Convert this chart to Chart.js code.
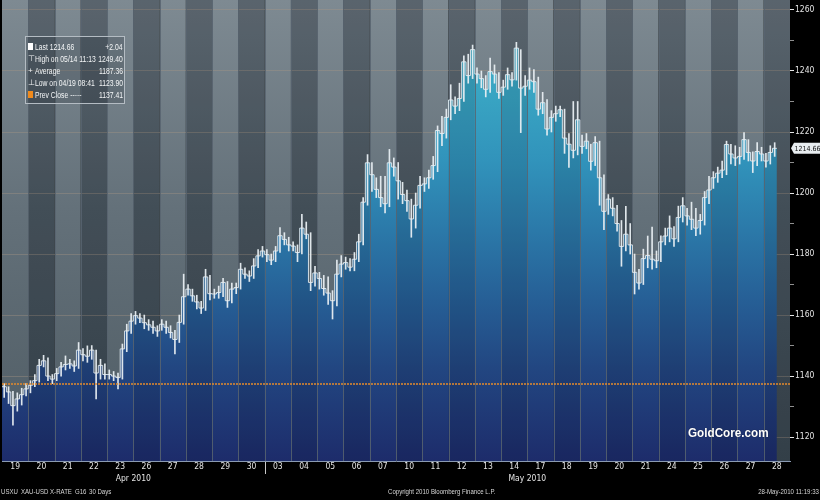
<!DOCTYPE html>
<html>
<head>
<meta charset="utf-8">
<script src="https://cdn.jsdelivr.net/npm/chart.js@4.4.1/dist/chart.umd.min.js"></script>
<style>
html,body{margin:0;padding:0;background:#000;}
#wrap{position:relative;width:820px;height:500px;overflow:hidden;background:#000;}
#c{position:absolute;left:0;top:0;}
#lg{position:absolute;left:25px;top:36px;width:98px;height:66px;border:1px solid #b4bcc3;background:rgba(30,40,50,0.22);}
#lg .r{position:absolute;left:0;width:98px;height:12px;line-height:12px;font-size:8.5px;color:#f4f6f7;font-family:'Liberation Sans',Arial,sans-serif;}
#lg .t{position:absolute;left:9px;top:0;white-space:nowrap;transform:scaleX(0.8);transform-origin:0 50%;}
#lg .v{position:absolute;right:1px;top:0;white-space:nowrap;transform:scaleX(0.8);transform-origin:100% 50%;}
#lg .ic{position:absolute;left:2px;top:0;font-size:8px;}
#lg .sq{position:absolute;left:2px;top:2px;width:5px;height:7px;}
#ft span{position:absolute;top:486px;height:11px;line-height:11px;font-size:8px;color:#d6d6d6;white-space:nowrap;font-family:'Liberation Sans',Arial,sans-serif;transform:scaleX(0.76);transform-origin:0 50%;}
#gc{position:absolute;left:688px;top:425px;font-family:'Liberation Sans',Arial,sans-serif;font-weight:bold;font-size:13px;color:#fff;white-space:nowrap;transform:scaleX(0.9);transform-origin:0 50%;text-shadow:0 0 1px rgba(0,0,0,0.6);}
</style>
</head>
<body>
<div id="wrap">
<canvas id="c" width="820" height="500"></canvas>
<div id="lg">
  <div class="r" style="top:4px"><span class="sq" style="background:#ffffff"></span><span class="t">Last 1214.66</span><span class="v">+2.04</span></div>
  <div class="r" style="top:16px"><span class="ic">⊤</span><span class="t">High on 05/14 11:13</span><span class="v">1249.40</span></div>
  <div class="r" style="top:28px"><span class="ic">+</span><span class="t">Average</span><span class="v">1187.36</span></div>
  <div class="r" style="top:40px"><span class="ic">⊥</span><span class="t">Low on 04/19 08:41</span><span class="v">1123.90</span></div>
  <div class="r" style="top:52px"><span class="sq" style="background:#f08a1c"></span><span class="t">Prev Close -----</span><span class="v">1137.41</span></div>
</div>
<div id="gc">GoldCore.com</div>
<div id="ft">
  <span style="left:1px">USXU</span>
  <span style="left:21px">XAU-USD X-RATE</span>
  <span style="left:75px">G16</span>
  <span style="left:89px">30 Days</span>
  <span style="left:388px">Copyright 2010 Bloomberg Finance L.P.</span>
  <span style="right:1px;transform-origin:100% 50%">28-May-2010 11:19:33</span>
</div>
</div>
<script>
// ---- data ----
const dayLabels = ["19","20","21","22","23","26","27","28","29","30","03","04","05","06","07","10","11","12","13","14","17","18","19","20","21","24","25","26","27","28"];
const monthLabels = ["Apr 2010","May 2010"];
const monthDaySpans = [[0,10],[10,30]];
const yTickValues = [1120,1130,1140,1150,1160,1170,1180,1190,1200,1210,1220,1230,1240,1250,1260];
const prevClose = 1137.41;
const lastValue = 1214.66;
const BARS_PER_DAY = 6;

const closes = [
 1136.5,1134.8,1130.3,1132.5,1133.9,1135.8,
 1137.0,1138.5,1143.5,1145.0,1140.0,1139.0,
 1140.8,1143.0,1143.8,1144.0,1143.3,1148.5,
 1147.0,1146.5,1148.5,1141.0,1143.5,1140.5,
 1140.5,1140.0,1139.5,1148.9,1154.8,1158.0,
 1159.8,1159.0,1157.5,1156.8,1156.0,1154.8,
 1157.0,1156.0,1154.3,1152.0,1157.6,1166.0,
 1168.5,1166.3,1164.3,1162.3,1172.5,1167.0,
 1166.9,1167.4,1170.7,1164.7,1168.5,1169.0,
 1175.0,1173.4,1172.8,1176.1,1179.4,1181.0,
 1179.8,1178.0,1181.0,1186.0,1184.8,1183.0,
 1182.6,1180.5,1188.5,1186.5,1170.7,1173.8,
 1172.0,1168.7,1167.2,1164.7,1173.4,1176.7,
 1177.2,1175.7,1178.3,1184.0,1197.0,1209.9,
 1206.0,1201.2,1198.5,1196.5,1209.9,1208.5,
 1204.0,1199.5,1197.5,1191.5,1196.0,1202.5,
 1203.0,1205.0,1209.0,1220.5,1219.5,1224.8,
 1230.5,1228.5,1231.0,1243.0,1238.5,1247.0,
 1239.0,1237.5,1234.0,1239.8,1239.0,1233.0,
 1234.7,1238.8,1237.1,1247.5,1234.4,1235.0,
 1237.0,1236.5,1227.5,1229.6,1221.0,1224.8,
 1226.0,1227.3,1218.0,1216.0,1214.0,1224.0,
 1215.3,1217.0,1210.4,1216.5,1205.0,1194.0,
 1198.0,1195.0,1190.0,1182.5,1186.5,1183.0,
 1174.0,1170.5,1178.5,1179.5,1178.3,1177.8,
 1184.0,1185.9,1188.5,1185.0,1192.0,1195.8,
 1192.5,1191.4,1188.5,1191.0,1198.5,1201.0,
 1205.0,1206.5,1207.5,1215.9,1212.8,1211.5,
 1212.0,1217.5,1213.3,1210.5,1213.6,1212.8,
 1210.5,1213.3,1214.66
];
const highs = [
 1137.5,1136.5,1135.0,1134.5,1136.0,1137.5,
 1138.5,1140.5,1145.5,1146.8,1146.0,1140.5,
 1142.5,1144.5,1146.6,1145.5,1145.0,1151.0,
 1149.0,1149.9,1150.0,1148.5,1145.5,1144.0,
 1142.0,1141.5,1141.0,1150.5,1157.0,1160.5,
 1161.2,1160.5,1160.0,1158.5,1158.0,1156.5,
 1158.5,1158.0,1156.5,1155.0,1160.0,1173.4,
 1170.0,1168.5,1166.5,1164.5,1175.0,1173.0,
 1168.5,1169.5,1172.0,1171.0,1170.5,1170.5,
 1177.0,1175.5,1174.5,1178.5,1181.5,1182.5,
 1181.5,1180.0,1182.5,1188.7,1187.0,1185.5,
 1184.0,1183.0,1193.0,1190.5,1187.0,1176.0,
 1174.0,1173.0,1172.5,1168.0,1178.0,1179.5,
 1179.0,1178.5,1180.5,1186.5,1198.5,1212.6,
 1210.0,1205.0,1205.5,1205.5,1214.3,1211.5,
 1210.0,1203.5,1201.0,1198.0,1200.0,1205.5,
 1205.0,1207.5,1212.0,1222.0,1225.1,1227.5,
 1235.5,1231.5,1236.0,1245.0,1245.5,1248.5,
 1241.0,1240.0,1238.5,1244.2,1242.0,1239.5,
 1237.0,1241.0,1239.5,1249.4,1247.0,1238.5,
 1241.0,1240.5,1238.0,1233.0,1230.6,1227.0,
 1228.5,1228.5,1227.5,1219.5,1230.0,1230.0,
 1219.0,1219.5,1216.0,1218.5,1217.0,1206.0,
 1199.5,1198.5,1196.0,1191.0,1195.6,1190.0,
 1180.0,1175.0,1181.6,1185.9,1188.8,1181.0,
 1186.0,1188.5,1192.5,1189.0,1195.7,1198.5,
 1195.0,1197.0,1195.0,1193.0,1200.5,1205.5,
 1207.0,1208.5,1210.5,1217.0,1216.0,1215.5,
 1215.0,1219.8,1217.5,1213.5,1216.5,1215.0,
 1213.0,1215.5,1216.5
];
const lows = [
 1133.0,1131.0,1123.9,1128.5,1130.5,1133.5,
 1134.5,1136.5,1138.0,1143.0,1138.5,1137.5,
 1138.5,1140.0,1142.0,1142.5,1141.5,1142.5,
 1145.0,1144.5,1145.5,1132.5,1139.0,1139.0,
 1139.0,1138.5,1135.8,1139.0,1148.0,1154.0,
 1157.0,1157.5,1155.5,1155.0,1154.0,1153.0,
 1155.0,1154.0,1152.5,1147.3,1151.0,1157.0,
 1166.5,1164.5,1162.0,1160.5,1161.5,1165.0,
 1165.5,1165.5,1166.0,1162.5,1164.0,1167.0,
 1168.5,1172.0,1171.0,1172.0,1175.5,1179.0,
 1177.5,1176.5,1177.5,1180.5,1183.0,1181.0,
 1181.0,1177.5,1180.0,1185.0,1168.0,1169.5,
 1168.5,1166.5,1163.5,1158.7,1163.0,1172.5,
 1175.0,1174.5,1174.5,1177.5,1183.0,1196.0,
 1200.5,1198.5,1195.5,1193.5,1195.5,1205.5,
 1198.0,1196.5,1194.0,1185.5,1188.5,1195.0,
 1200.5,1201.5,1204.5,1207.0,1215.5,1218.0,
 1224.0,1226.0,1227.0,1230.0,1236.0,1237.5,
 1236.0,1234.5,1231.5,1233.0,1236.0,1231.0,
 1232.0,1234.0,1235.0,1237.0,1219.8,1232.0,
 1234.0,1233.0,1225.5,1226.0,1219.0,1220.0,
 1223.5,1225.0,1213.0,1208.4,1211.5,1212.5,
 1213.0,1214.5,1207.5,1209.0,1196.0,1188.0,
 1193.0,1192.5,1187.5,1176.0,1181.0,1180.0,
 1166.9,1168.5,1170.0,1175.5,1175.0,1175.5,
 1177.5,1183.0,1184.0,1182.5,1184.0,1190.5,
 1189.5,1188.0,1186.0,1186.5,1189.5,1196.5,
 1201.5,1203.5,1205.0,1206.0,1209.5,1209.0,
 1209.5,1211.0,1210.5,1206.7,1209.0,1210.5,
 1208.5,1209.5,1212.0
];

// ---- derived for library ----
const TOTAL = dayLabels.length * BARS_PER_DAY;
const Y_MIN = 1112.16, Y_MAX = 1263.27;
const FONT = "'Liberation Sans Narrow','Arial Narrow','DejaVu Sans Condensed','Liberation Sans',sans-serif";
const stepPts = closes.map((c,i)=>({x:i,y:c}));
stepPts.push({x:closes.length,y:closes[closes.length-1]});
const hiLo = closes.map((c,i)=>({x:i+0.5,y:[lows[i],highs[i]]}));

function blueFill(context){
  const ch = context.chart, a = ch.chartArea;
  if(!a) return 'rgba(0,0,0,0)';
  const g = ch.ctx.createLinearGradient(0,a.top,0,a.bottom);
  g.addColorStop(0,'#40b2c9');
  g.addColorStop(0.2,'#39a5c3');
  g.addColorStop(0.35,'#3193bb');
  g.addColorStop(0.5,'#2b79a9');
  g.addColorStop(0.65,'#265f96');
  g.addColorStop(0.8,'#224681');
  g.addColorStop(1,'#1d2c6b');
  return g;
}

const decor = {
  id:'decor',
  beforeDraw(chart){
    const {ctx, chartArea:a, scales:{x}} = chart;
    const gl = ctx.createLinearGradient(0,a.top,0,a.bottom);
    gl.addColorStop(0,'#7e8a92'); gl.addColorStop(0.45,'#64717a'); gl.addColorStop(1,'#4f5c64');
    const gd = ctx.createLinearGradient(0,a.top,0,a.bottom);
    gd.addColorStop(0,'#65717a'); gd.addColorStop(0.45,'#4b5861'); gd.addColorStop(1,'#3a4750');
    ctx.save();
    for(let d=0; d<dayLabels.length; d++){
      const x0 = x.getPixelForValue(d*BARS_PER_DAY), x1 = x.getPixelForValue((d+1)*BARS_PER_DAY);
      ctx.fillStyle = d%2===0 ? gl : gd;
      ctx.fillRect(x0, a.top, x1-x0, a.bottom-a.top);
    }
    ctx.restore();
  },
  afterDatasetDraw(chart,args){
    if(args.index!==0) return;
    const {ctx, chartArea:a, scales:{x}} = chart;
    ctx.save();
    ctx.fillStyle='rgba(0,0,10,0.11)';
    for(let d=1; d<dayLabels.length; d+=2){
      const x0 = x.getPixelForValue(d*BARS_PER_DAY), x1 = x.getPixelForValue((d+1)*BARS_PER_DAY);
      ctx.fillRect(x0, a.top, x1-x0, a.bottom-a.top);
    }
    ctx.strokeStyle='rgba(88,100,112,0.85)';
    ctx.lineWidth=1;
    for(let d=1; d<dayLabels.length; d++){
      const xx = Math.round(x.getPixelForValue(d*BARS_PER_DAY))+0.5;
      ctx.beginPath(); ctx.moveTo(xx,a.top); ctx.lineTo(xx,a.bottom); ctx.stroke();
    }
    ctx.restore();
  },
  afterDraw(chart){
    const {ctx, chartArea:a, scales:{x,y}} = chart;
    ctx.save();
    const sx = Math.round(x.getPixelForValue(monthDaySpans[1][0]*BARS_PER_DAY))+0.5;
    ctx.strokeStyle='#c9c9c9'; ctx.lineWidth=1;
    ctx.beginPath(); ctx.moveTo(sx,a.bottom+1); ctx.lineTo(sx,a.bottom+13); ctx.stroke();
    const ly = y.getPixelForValue(lastValue);
    const lx = a.right+1;
    ctx.fillStyle='#e8edf0';
    ctx.beginPath();
    ctx.moveTo(lx, ly);
    ctx.lineTo(lx+3, ly-5.5);
    ctx.lineTo(820, ly-5.5);
    ctx.lineTo(820, ly+5.5);
    ctx.lineTo(lx+3, ly+5.5);
    ctx.closePath(); ctx.fill();
    ctx.fillStyle='#111';
    ctx.font = "7px " + FONT;
    ctx.textAlign='left'; ctx.textBaseline='middle';
    ctx.fillText(lastValue.toFixed(2), lx+3.5, ly+0.5);
    ctx.restore();
  }
};

new Chart(document.getElementById('c'), {
  type:'bar',
  data:{
    datasets:[
      {type:'line', label:'area', data:stepPts, stepped:true, fill:'start', backgroundColor:blueFill,
       borderWidth:0, borderColor:'rgba(0,0,0,0)', pointRadius:0, order:5},
      {type:'line', label:'prev', data:[{x:0,y:prevClose},{x:TOTAL,y:prevClose}], borderColor:'#e38b2c',
       borderWidth:1.6, borderDash:[2,1], pointRadius:0, fill:false, order:1},
      {type:'line', label:'close', data:stepPts, stepped:true, fill:false, borderColor:'rgba(226,234,240,0.92)',
       borderWidth:1, pointRadius:0, order:3},
      {type:'bar', label:'hilo', data:hiLo, backgroundColor:'rgba(232,238,242,0.95)', borderWidth:0,
       barThickness:1, order:2}
    ]
  },
  options:{
    responsive:false, animation:false, events:[],
    layout:{padding:{left:2,right:0,top:0,bottom:14}},
    plugins:{legend:{display:false}, tooltip:{enabled:false}},
    scales:{
      x:{type:'linear', position:'bottom', min:0, max:TOTAL, offset:false, weight:1,
         grid:{display:false, drawTicks:false, tickLength:0}, border:{display:true, color:'#8a9ab2', width:1},
         ticks:{color:'#e4e4e4', font:{family:FONT, size:8.5}, padding:1, maxRotation:0, autoSkip:false,
                callback:(v)=>{const i=Math.round((v-BARS_PER_DAY/2)/BARS_PER_DAY); return dayLabels[i]||'';}},
         afterBuildTicks:(s)=>{s.ticks = dayLabels.map((_,i)=>({value:i*BARS_PER_DAY+BARS_PER_DAY/2}));},
         afterFit:(s)=>{s.height=13; s.paddingLeft=0; s.paddingRight=0;}
      },
      x2:{type:'linear', axis:'x', position:'bottom', min:0, max:TOTAL, offset:false, weight:2,
         grid:{display:false, drawTicks:false, tickLength:0}, border:{display:false},
         ticks:{color:'#e4e4e4', font:{family:FONT, size:8.5}, padding:0, maxRotation:0, autoSkip:false,
                callback:(v)=>{const i=monthDaySpans.findIndex(sp=>Math.abs((sp[0]+sp[1])/2*BARS_PER_DAY - v)<0.01); return i>=0?monthLabels[i]:'';}},
         afterBuildTicks:(s)=>{s.ticks = monthDaySpans.map(sp=>({value:(sp[0]+sp[1])/2*BARS_PER_DAY}));},
         afterFit:(s)=>{s.height=12; s.paddingLeft=0; s.paddingRight=0;}
      },
      y:{type:'linear', position:'right', min:Y_MIN, max:Y_MAX, z:1,
         grid:{drawOnChartArea:true, tickLength:4,
               color:(c)=> (c.tick && c.tick.value%20===0) ? 'rgba(172,152,132,0.36)' : 'rgba(0,0,0,0)',
               tickColor:(c)=> (c.tick && c.tick.value%20===0) ? '#e6e6e6' : '#8f8f8f'},
         border:{display:false},
         ticks:{color:'#e4e4e4', font:{family:FONT, size:8.5}, padding:1,
                callback:(v)=> v%20===0 ? String(v) : ''},
         afterBuildTicks:(s)=>{s.ticks = yTickValues.map(v=>({value:v}));},
         afterFit:(s)=>{s.width=30; s.paddingTop=0; s.paddingBottom=0;}
      }
    }
  },
  plugins:[decor]
});
</script>
</body>
</html>
